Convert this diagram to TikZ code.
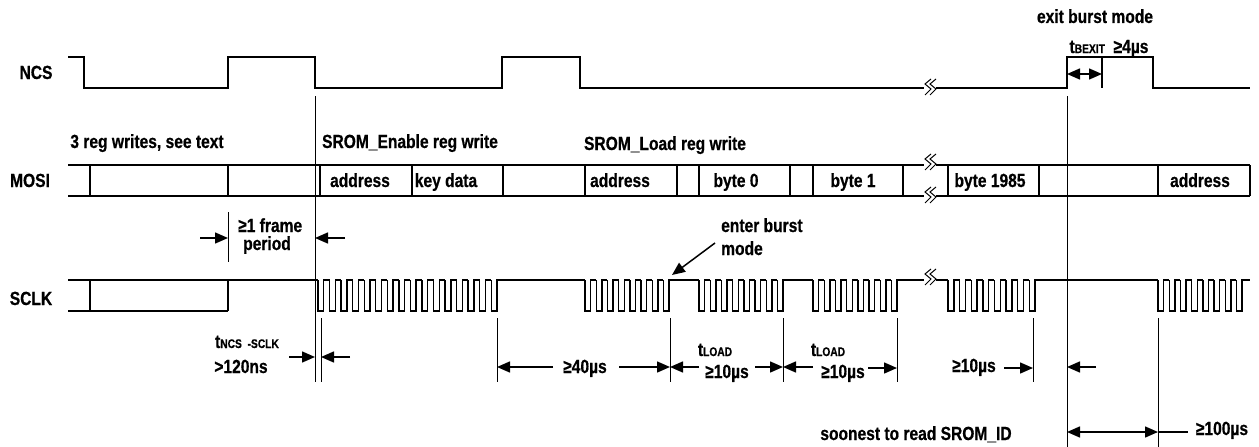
\documentclass[tikz,border=0pt]{standalone}
\usepackage{fontspec}
\setmainfont{Liberation Sans}[FakeStretch=0.82,BoldFeatures={FakeBold=0.6}]
\usetikzlibrary{arrows.meta}

\newcommand{\tsub}[1]{{\fontsize{12.5}{12}\selectfont #1}}
% one burst of clocks: first falling edge, number of clocks, period
\newcommand{\clkburst}[3]{%
  \foreach \k in {1,...,#2}
    \draw[wave] ({#1+(\k-1)*#3},280) |- ({#1+(\k-0.5)*#3},311) |- ({#1+\k*#3},280);
}
% break symbol on a line
\newcommand{\brkmark}[2]{%
  \fill[white] (#1-4,#2-3) rectangle (#1+8,#2+3);
  \foreach \dx in {0,5}
    \draw[line width=1pt] (#1+\dx+3,#2-9) -- (#1+\dx-3,#2-4) -- (#1+\dx+3,#2+1) -- (#1+\dx-3,#2+7);
}

\begin{document}
\begin{tikzpicture}[x=1pt,y=-1pt,
    wave/.style={line width=1.4pt},
    guide/.style={line width=0.6pt},
    dimarr/.style={line width=1.5pt,-{Triangle[length=13pt,width=11pt]}},
    twoway/.style={dimarr,{Triangle[length=13pt,width=11pt]}-{Triangle[length=13pt,width=11pt]}},
    lbl/.style={font=\fontsize{19}{21}\selectfont\bfseries,inner sep=0pt,anchor=base}]
  \useasboundingbox (0,0) rectangle (1259,447);

  % signal names
  \node[lbl] (ncs) at (36,79) {NCS};
  \node[lbl] (mosi) at (30,187) {MOSI};
  \node[lbl] (sclk) at (31,305) {SCLK};

  % NCS
  \draw[wave] (68,57) -| (84,88) -| (228,57) -| (315,88) -| (502,57) -| (580,88)
    -| (1067,57) -| (1153,88) -- (1250,88);
  \draw[wave] (1102,57) -- (1102,88);

  % MOSI
  \draw[wave] (68,165) -- (1250,165) (68,196) -- (1250,196);
  \foreach \x in {90,228,320,412,503,585,677,699,790,813,903,948,1039,1158,1250}
    \draw[wave] (\x,165) -- (\x,196);

  % SCLK
  \draw[wave] (68,311) -- (228,311) (68,280) -- (318,280)
    (90,280) -- (90,311) (228,280) -- (228,311);
  \clkburst{318}{16}{11.55}
  \clkburst{585}{8}{11.2}
  \clkburst{699}{8}{11.2}
  \clkburst{813}{8}{11.2}
  \clkburst{948}{8}{11.6}
  \clkburst{1158}{8}{11.2}
  \draw[wave] (497,280) -- (585,280) (669,280) -- (699,280) (783,280) -- (813,280)
    (897,280) -- (948,280) (1035,280) -- (1158,280) (1242,280) -- (1250,280);

  \brkmark{928}{88}
  \brkmark{928}{163}
  \brkmark{928}{196}
  \brkmark{928}{278}

  % guide lines
  \coordinate (gcs) at (315,96);
  \coordinate (gsc) at (321,318);
  \coordinate (gfr) at (228,212);
  \coordinate (ge1) at (497,318);
  \coordinate (gb0) at (670,318);
  \coordinate (gb1) at (783,318);
  \coordinate (gb2) at (897,318);
  \coordinate (gbn) at (1033,318);
  \coordinate (gex) at (1067,96);
  \coordinate (grd) at (1158,318);
  \draw[guide] (gcs) -- ++(0,286);
  \draw[guide] (gsc) -- ++(0,64);
  \draw[guide] (gfr) -- ++(0,50);
  \foreach \g in {ge1,gb0,gb1,gb2,gbn}
    \draw[guide] (\g) -- ++(0,64);
  \draw[guide] (gex) -- ++(0,351);
  \draw[guide] (grd) -- ++(0,129);

  % timing arrows
  \coordinate (fa) at (200,238);
  \coordinate (fb) at (345,238);
  \coordinate (na) at (289,357);
  \coordinate (nb) at (350,357);
  \coordinate (la) at (553,367);
  \coordinate (lb) at (619,367);
  \coordinate (l0a) at (699,367);
  \coordinate (l0b) at (755,367);
  \coordinate (l1a) at (813,367);
  \coordinate (l1b) at (868,368);
  \coordinate (l2) at (1004,368);
  \coordinate (xa) at (1096,367);
  \coordinate (ra) at (1188,432);
  \coordinate (bxa) at (1067,74);
  \coordinate (bxb) at (1102,74);
  \coordinate (eb) at (715,243);
  \coordinate (ebt) at (672,275);
  \draw[dimarr] (fa) -- (fa -| gfr);
  \draw[dimarr] (fb) -- (fb -| gcs);
  \draw[dimarr] (na) -- (na -| gcs);
  \draw[dimarr] (nb) -- (nb -| gsc);
  \draw[dimarr] (la) -- (la -| ge1);
  \draw[dimarr] (lb) -- (lb -| gb0);
  \draw[dimarr] (l0a) -- (l0a -| gb0);
  \draw[dimarr] (l0b) -- (l0b -| gb1);
  \draw[dimarr] (l1a) -- (l1a -| gb1);
  \draw[dimarr] (l1b) -- (l1b -| gb2);
  \draw[dimarr] (l2) -- (l2 -| gbn);
  \draw[dimarr] (xa) -- (xa -| gex);
  \draw[twoway] (ra -| gex) -- (ra -| grd);
  \draw[line width=1.5pt] (ra -| grd) -- (ra);
  \draw[twoway] (bxa) -- (bxb);
  \draw[dimarr] (eb) -- (ebt);

  % labels
  \node[lbl] (regw) at (147,148) {3 reg writes, see text};
  \node[lbl] (enw) at (410,148) {SROM\_Enable reg write};
  \node[lbl] (ldw) at (665,150) {SROM\_Load reg write};
  \node[lbl] (f1) at (360,187) {address};
  \node[lbl] (f2) at (446,187) {key data};
  \node[lbl] (f3) at (620,187) {address};
  \node[lbl] (f4) at (736,187) {byte 0};
  \node[lbl] (f5) at (853,187) {byte 1};
  \node[lbl] (f6) at (990,187) {byte 1985};
  \node[lbl] (f7) at (1200,187) {address};
  \node[lbl,anchor=base west] (frm) at (238,232) {≥1 frame};
  \node[lbl,anchor=base west] (per) at (243,250) {period};
  \node[lbl,anchor=base west] (ent) at (721,232) {enter burst};
  \node[lbl,anchor=base west] (mod) at (721,255) {mode};
  \node[lbl] (tns) at (247,348) {t\tsub{NCS\ \ -SCLK}};
  \node[lbl] (t120) at (241,373) {>120ns};
  \node[lbl] (t40) at (585,373) {≥40µs};
  \node[lbl] (ld0) at (715,356) {t\tsub{LOAD}};
  \node[lbl] (t10a) at (727,378) {≥10µs};
  \node[lbl] (ld1) at (828,356) {t\tsub{LOAD}};
  \node[lbl] (t10b) at (843,378) {≥10µs};
  \node[lbl] (t10c) at (974,372) {≥10µs};
  \node[lbl] (t100) at (1222,435) {≥100µs};
  \node[lbl] (rdid) at (916,440) {soonest to read SROM\_ID};
  \node[lbl] (exb) at (1095,23) {exit burst mode};
  \node[lbl] (tbx) at (1109,53) {t\tsub{BEXIT}\ \ ≥4µs};
\end{tikzpicture}
\end{document}
